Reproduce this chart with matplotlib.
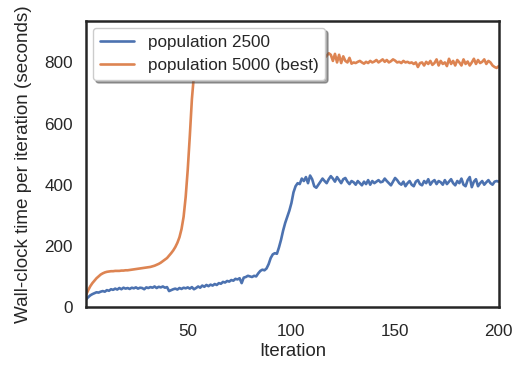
import matplotlib
matplotlib.use('Agg')
import matplotlib.pyplot as plt
import seaborn as sns

# wall-clock time per iteration
iterations = list(range(1, 201))

pop_2500 = [
    25, 32, 38, 42, 45, 48, 47, 50, 52, 50,
    55, 53, 58, 56, 60, 57, 62, 58, 63, 60,
    62, 59, 63, 61, 64, 60, 63, 62, 58, 64,
    62, 65, 63, 67, 62, 66, 64, 67, 63, 65,
    52, 55, 58, 60, 57, 62, 59, 63, 61, 64,
    60, 65, 58, 62, 67, 63, 70, 66, 72, 68,
    73, 70, 75, 72, 78, 76, 82, 80, 85, 83,
    88, 86, 92, 90, 94, 78, 96, 98, 102, 100,
    98, 102, 100, 110, 118, 122, 120, 126, 140, 160,
    172, 176, 174, 195, 220, 250, 275, 295, 315, 340,
    375, 395, 405, 402, 420, 412, 425, 405, 430, 418,
    395, 390, 400, 410, 420, 412, 405, 418, 428, 420,
    410, 425, 415, 405, 418, 422, 410, 402, 412, 408,
    400, 412, 405, 398, 410, 402, 415, 400, 412, 405,
    410, 415, 408, 410, 420, 412, 405, 398, 410, 422,
    415, 405, 400, 410, 395, 405, 412, 400, 395, 410,
    415, 402, 398, 412, 405, 418, 400, 410, 415, 402,
    412, 408, 400, 415, 402, 410, 418, 405, 398, 412,
    405, 420, 400, 395, 415, 425, 392, 410, 418, 395,
    405, 412, 400, 408, 415, 405, 400, 410, 412, 410,
]

pop_5000 = [
    40, 55, 68, 78, 86, 94, 100, 106, 110, 113,
    115, 116, 117, 117, 118, 118, 118, 119, 119, 120,
    120, 121, 122, 123, 124, 125, 126, 127, 128, 129,
    130, 131, 133, 135, 138, 141, 145, 150, 155, 160,
    168, 176, 185, 196, 210, 228, 255, 295, 360, 450,
    560, 680, 760, 800, 815, 820, 825, 818, 822, 828,
    822, 815, 828, 820, 812, 825, 818, 830, 822, 815,
    826, 818, 812, 824, 830, 820, 815, 825, 818, 812,
    820, 828, 816, 822, 812, 826, 818, 824, 815, 820,
    828, 818, 812, 822, 826, 815, 820, 830, 818, 812,
    822, 816, 826, 818, 812, 824, 820, 828, 815, 822,
    818, 826, 812, 820, 828, 815, 822, 830, 825, 805,
    828, 800, 825, 798, 820, 805, 800, 815, 796, 800,
    798, 802, 805, 800, 796, 802, 798, 805, 800, 803,
    808, 800, 805, 810, 802, 808, 800, 804, 810, 806,
    800, 802, 798, 805, 800, 802, 798, 800, 795, 800,
    785, 798, 800, 790, 802, 795, 805, 792, 798, 810,
    790, 805, 795, 800, 788, 812, 795, 805, 790, 808,
    800, 790, 810, 795, 803, 790, 800, 812, 795, 808,
    798, 802, 810, 795, 805, 800, 790, 785, 782, 788,
]

sns.set_theme(style='white')
plt.rcParams['font.family'] = ['Liberation Sans', 'DejaVu Sans']

fig = plt.figure(figsize=(5.19, 3.65), dpi=100)
ax = fig.add_axes([0.166, 0.159, 0.795, 0.783])

ax.plot(iterations, pop_2500, label='population 2500', lw=1.9)
ax.plot(iterations, pop_5000, label='population 5000 (best)', lw=1.9)

ax.set_xlim(1, 200)
ax.set_ylim(0, 935)
ax.set_xticks([50, 100, 150, 200])
ax.set_yticks([0, 200, 400, 600, 800])
ax.tick_params(labelsize=12.3, colors='0.15')
ax.tick_params(axis='x', pad=6)
ax.set_xlabel('Iteration', fontsize=13.4, color='0.15', labelpad=3)
ax.set_ylabel('Wall-clock time per iteration (seconds)', fontsize=13.6,
              color='0.15', labelpad=9)
for s in ax.spines.values():
    s.set_color('0.15')
    s.set_linewidth(1.8)

ax.legend(loc='upper left', shadow=True, frameon=True, fancybox=True,
          fontsize=12.3, borderaxespad=0.4)

fig.savefig('out.png', dpi=100)
